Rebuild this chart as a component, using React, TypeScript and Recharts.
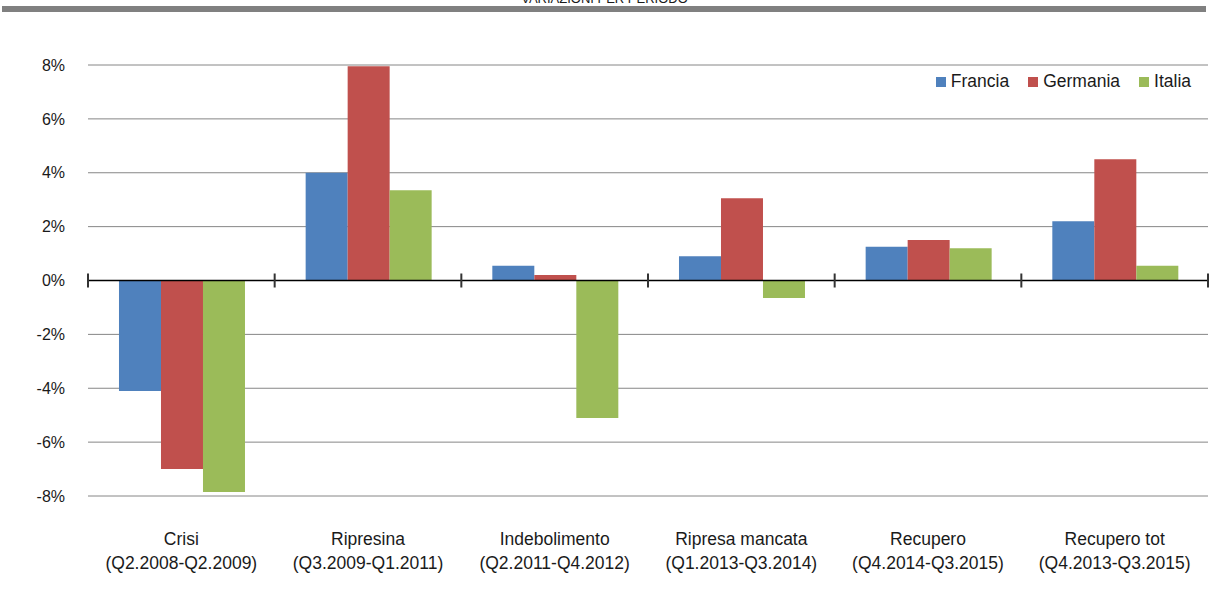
import React from 'react';
import {
  BarChart,
  Bar,
  XAxis,
  YAxis,
  CartesianGrid,
  Legend,
  ReferenceLine,
} from "recharts";

const periods = [
  "Crisi",
  "Ripresina",
  "Indebolimento",
  "Ripresa mancata",
  "Recupero",
  "Recupero tot",
];
const ranges = [
  "(Q2.2008-Q2.2009)",
  "(Q3.2009-Q1.2011)",
  "(Q2.2011-Q4.2012)",
  "(Q1.2013-Q3.2014)",
  "(Q4.2014-Q3.2015)",
  "(Q4.2013-Q3.2015)",
];
const francia = [-4.1, 4.0, 0.55, 0.9, 1.25, 2.2];
const germania = [-7.0, 7.95, 0.2, 3.05, 1.5, 4.5];
const italia = [-7.85, 3.35, -5.1, -0.65, 1.2, 0.55];
const yTicks = [-8, -6, -4, -2, 0, 2, 4, 6, 8];
const boundaries = [0, 1, 2, 3, 4, 5, 6];

const series = [
  { key: "Francia", color: "#4F81BD" },
  { key: "Germania", color: "#C0504D" },
  { key: "Italia", color: "#9BBB59" },
];

const data = periods.map((p, i) => ({
  name: p,
  idx: i + 0.5,
  Francia: francia[i],
  Germania: germania[i],
  Italia: italia[i],
}));

const font = "'Liberation Sans', Arial, sans-serif";

const CategoryTick = (props: any) => {
  const { x, y, payload, index } = props;
  return (
    <g>
      <text x={x} y={y} textAnchor="middle" fill="#1a1a1a" fontSize={17.5} fontFamily={font}>
        <tspan x={x} dy={41}>{payload.value}</tspan>
        <tspan x={x} dy={24}>{ranges[index]}</tspan>
      </text>
    </g>
  );
};

const LegendBox = () => (
  <div style={{ display: "flex", fontFamily: font, fontSize: 17.5, color: "#1a1a1a" }}>
    {series.map((s) => (
      <div key={s.key} style={{ display: "flex", alignItems: "center", marginLeft: 19 }}>
        <span style={{ width: 10, height: 10, background: s.color, marginRight: 5, display: "inline-block" }} />
        <span>{s.key}</span>
      </div>
    ))}
  </div>
);

export default function App() {
  return (
    <div style={{ position: "relative", width: 1209, height: 593, background: "#fff", overflow: "hidden" }}>
      <style>{`body{margin:0}`}</style>
      <div
        style={{
          position: "absolute",
          top: -9,
          left: 0,
          width: 1209,
          textAlign: "center",
          fontFamily: font,
          fontSize: 13,
          color: "#1a1a1a",
        }}
      >
        VARIAZIONI PER PERIODO
      </div>
      <div style={{ position: "absolute", top: 6, left: 2, width: 1204, height: 6, background: "#808080" }} />
      <BarChart
        width={1209}
        height={593}
        data={data}
        margin={{ top: 65, right: 1, left: 0, bottom: 27 }}
        barCategoryGap="16.6%"
        barGap={0}
      >
        <CartesianGrid vertical={false} stroke="#868686" />
        <XAxis
          dataKey="name"
          axisLine={false}
          tickLine={false}
          interval={0}
          height={70}
          tick={<CategoryTick />}
        />
        <XAxis
          xAxisId="grid"
          type="number"
          dataKey="idx"
          domain={[0, 6]}
          ticks={boundaries}
          allowDataOverflow
          hide
        />
        <YAxis
          domain={[-8, 8]}
          ticks={yTicks}
          axisLine={false}
          tickLine={false}
          tickSize={0}
          tickMargin={23}
          width={88}
          tickFormatter={(v: number) => `${v}%`}
          tick={{ fill: "#1a1a1a", fontSize: 16, fontFamily: font }}
        />
        <Legend
          verticalAlign="middle"
          align="center"
          content={<LegendBox />}
          wrapperStyle={{ top: 71, right: 18, left: "auto", width: "auto" }}
        />
        {series.map((s) => (
          <Bar key={s.key} dataKey={s.key} fill={s.color} isAnimationActive={false} />
        ))}
        <ReferenceLine y={0} stroke="#000" strokeWidth={1.5} />
        {boundaries.map((b) => (
          <ReferenceLine
            key={b}
            xAxisId="grid"
            segment={[
              { x: b, y: -0.26 },
              { x: b, y: 0.26 },
            ]}
            stroke="#333"
            strokeWidth={2}
          />
        ))}
      </BarChart>
    </div>
  );
}
